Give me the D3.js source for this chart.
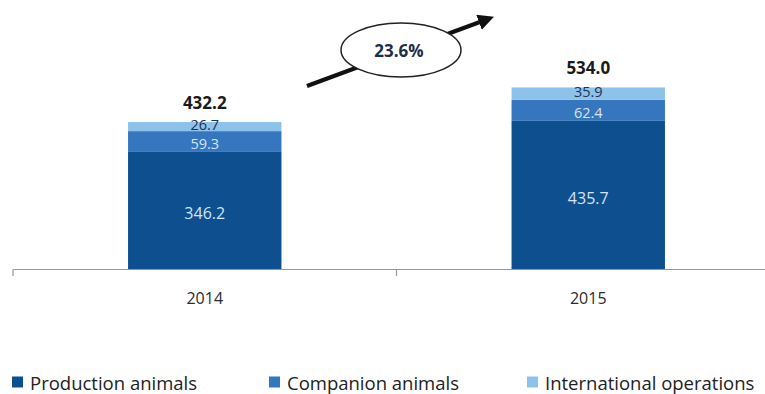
<!DOCTYPE html>
<html><head><meta charset="utf-8">
<script src="https://cdn.jsdelivr.net/npm/d3@7"></script>
<style>body{margin:0;background:#fff}svg{display:block}</style>
</head><body><svg id="c" width="765" height="394"></svg>
<script>
const categories = ["2014", "2015"];
const seriesNames = ["Production animals", "Companion animals", "International operations"];
const production = [346.2, 435.7];
const companion = [59.3, 62.4];
const international = [26.7, 35.9];
const totals = [432.2, 534.0];
const growthLabel = "23.6%";

const colors = ["#0d4f8f", "#3576bf", "#8dc3ea"];
const labelColors = ["#d3e3f3", "#d3e3f3", "#1c3150"];
const font = "'Open Sans', 'DejaVu Sans', sans-serif";

const svg = d3.select("#c");
const x = d3.scaleBand().domain(categories).range([13, 780]).paddingInner(0).paddingOuter(0);
const y = d3.scaleLinear().domain([0, 600]).range([269, 65]);
const barW = x.bandwidth() * 0.4;

const rows = categories.map((c, i) => ({cat: c, vals: [production[i], companion[i], international[i]]}));
const stack = d3.stack().keys([0, 1, 2]).value((d, k) => d.vals[k]);
const series = stack(rows);

series.forEach((s, k) => {
  svg.append("g").selectAll("rect").data(s).enter().append("rect")
    .attr("x", d => x(d.data.cat) + x.bandwidth() / 2 - barW / 2)
    .attr("width", barW)
    .attr("y", d => y(d[1]))
    .attr("height", d => y(d[0]) - y(d[1]))
    .attr("fill", colors[k]);
});
const dy = [3, 2, -2];
series.forEach((s, k) => {
  svg.append("g").selectAll("text").data(s).enter().append("text")
    .attr("x", d => x(d.data.cat) + x.bandwidth() / 2)
    .attr("y", d => (y(d[0]) + y(d[1])) / 2 + dy[k])
    .attr("text-anchor", "middle").attr("dominant-baseline", "central")
    .attr("font-family", font).attr("font-size", k === 0 ? 16 : 14.5)
    .attr("fill", labelColors[k])
    .text(d => d.data.vals[k].toFixed(1));
});
// totals
svg.append("g").selectAll("text").data(categories).enter().append("text")
  .attr("x", c => x(c) + x.bandwidth() / 2)
  .attr("y", (c, i) => y(totals[i]) - 20)
  .attr("text-anchor", "middle").attr("dominant-baseline", "central")
  .attr("font-family", font).attr("font-size", 17).attr("font-weight", "bold")
  .attr("fill", "#1a1a1a")
  .text((c, i) => totals[i].toFixed(1));

// axis
const axis = d3.axisBottom(x).tickSize(0).tickFormat("");
const gx = svg.append("g").attr("transform", `translate(0,${y(0)})`).call(axis);
gx.select(".domain").attr("stroke", "#8c9aab").attr("stroke-width", 1.2);
const bounds = [x.range()[0], x(categories[1]), x.range()[1]];
gx.selectAll(".sep").data(bounds).enter().append("line")
  .attr("x1", d => d).attr("x2", d => d).attr("y1", 0).attr("y2", 7)
  .attr("stroke", "#8c9aab").attr("stroke-width", 1.2);
svg.append("g").selectAll("text").data(categories).enter().append("text")
  .attr("x", c => x(c) + x.bandwidth() / 2).attr("y", 298)
  .attr("text-anchor", "middle").attr("dominant-baseline", "central")
  .attr("font-family", font).attr("font-size", 16).attr("fill", "#2b2b2b")
  .text(c => c);

// growth arrow
svg.append("defs").append("marker").attr("id", "ah").attr("viewBox", "0 0 10 10")
  .attr("refX", 6).attr("refY", 5).attr("markerWidth", 4).attr("markerHeight", 4)
  .attr("orient", "auto").append("path").attr("d", "M0,0 L10,5 L0,10 z").attr("fill", "#111");
svg.append("line").attr("x1", 307).attr("y1", 86).attr("x2", 488).attr("y2", 19)
  .attr("stroke", "#111").attr("stroke-width", 4).attr("marker-end", "url(#ah)");
svg.append("ellipse").attr("cx", 401).attr("cy", 50).attr("rx", 60).attr("ry", 27)
  .attr("fill", "#fff").attr("stroke", "#222").attr("stroke-width", 1.5);
svg.append("text").attr("x", 399).attr("y", 50).attr("text-anchor", "middle")
  .attr("dominant-baseline", "central").attr("font-family", font).attr("font-size", 17)
  .attr("font-weight", "bold").attr("fill", "#1f2d48").text(growthLabel);

// legend
const legX = [12, 269, 527];
const leg = svg.append("g").selectAll("g").data(seriesNames).enter().append("g")
  .attr("transform", (d, i) => `translate(${legX[i]},382)`);
leg.append("rect").attr("x", 0).attr("y", -5.5).attr("width", 11).attr("height", 11)
  .attr("fill", (d, i) => colors[i]);
leg.append("text").attr("x", 18).attr("y", 0).attr("dominant-baseline", "central")
  .attr("font-family", font).attr("font-size", 18.5).attr("fill", "#222").text(d => d);
</script></body></html>
